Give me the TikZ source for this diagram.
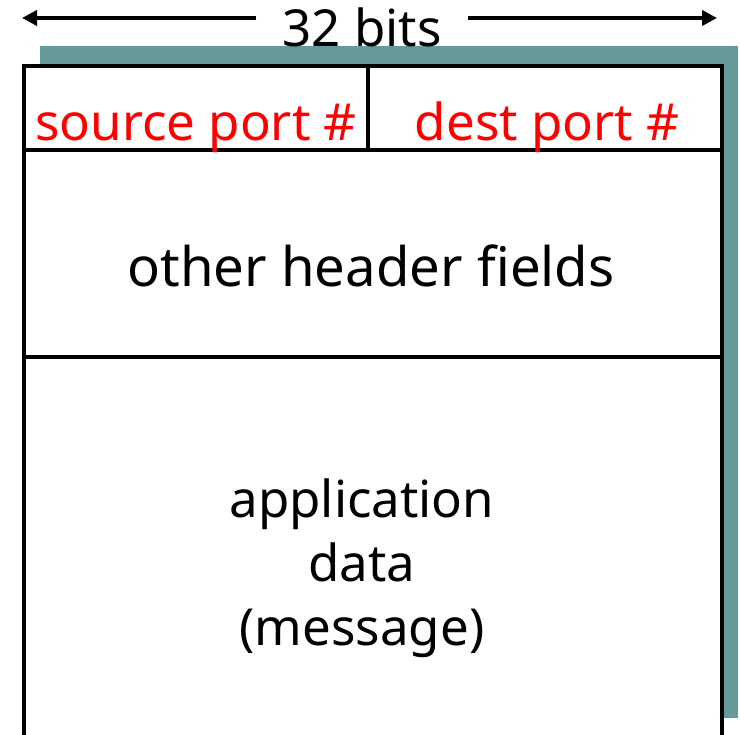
\documentclass[tikz,border=0pt]{standalone}
\usepackage{fontspec}
\setmainfont{Noto Sans}
\usepackage{xcolor}
\usetikzlibrary{arrows.meta, positioning}
\definecolor{hdrshadow}{HTML}{669999}
\definecolor{portred}{HTML}{FF0000}

\begin{document}
\begin{tikzpicture}[x=1pt, y=-1pt, line width=4.5pt, every node/.style={inner sep=0pt, anchor=base, font=\fontsize{51}{64}\selectfont}]
        \useasboundingbox (0,0) rectangle (740,735);
        \clip (0,0) rectangle (740,735);
        % shadow and segment frame
        \fill[hdrshadow] (40,46) rectangle (738,718);
        \fill[white] (24,66) rectangle (722,740);
        \draw (24,745) -- (24,66) -- (722,66) -- (722,745);
        \draw (24,150) -- (722,150);
        \draw (24,357) -- (722,357);
        \draw (368,66) -- (368,150);
        % width marker
        \node[inner xsep=24pt] (bits) at (362,47) {32 bits};
        \coordinate (lend) at (22,18);
        \coordinate (rend) at (717,18);
        \draw[line width=4pt, -{Triangle[length=15pt,width=15pt]}] (bits.west |- lend) -- (lend);
        \draw[line width=4pt, -{Triangle[length=15pt,width=15pt]}] (bits.east |- rend) -- (rend);
        % fields
        \node[portred] (srcport) at (196,141) {source port \#};
        \node[portred] (dstport) at (547,141) {dest port \#};
        \node[font=\fontsize{54.5}{64}\selectfont] (others) at (371,287) {other header fields};
        \node[align=center] (appdata) at (362,645) {application\\data\\(message)};
    \end{tikzpicture}
\end{document}
